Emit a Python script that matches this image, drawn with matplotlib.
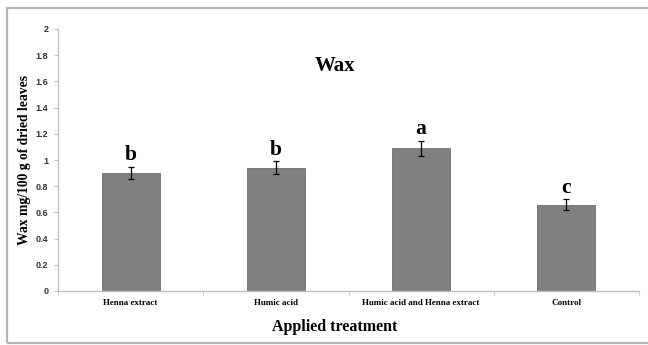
import matplotlib
matplotlib.use("Agg")
import matplotlib.pyplot as plt
from matplotlib.patches import Rectangle
import numpy as np

categories = ["Henna extract", "Humic acid", "Humic acid and Henna extract", "Control"]
values = [0.90, 0.94, 1.09, 0.66]
errors = [0.047, 0.05, 0.058, 0.04]
letters = ["b", "b", "a", "c"]
yticks = [0, 0.2, 0.4, 0.6, 0.8, 1, 1.2, 1.4, 1.6, 1.8, 2]

W, H = 648, 345
fig = plt.figure(figsize=(W/100, H/100), dpi=100)
fig.patch.set_facecolor("white")

# outer frame
fig.patches.append(Rectangle((7/W, 2/H), (W+5-7)/W, (337-2)/H, transform=fig.transFigure,
                             fill=False, edgecolor="#b5b5b5", linewidth=1.6, zorder=0))

ax = fig.add_axes([58/W, (H-291)/H, (639-58)/W, (291-29)/H])
x = np.arange(len(categories))
ax.bar(x, values, width=0.4, color="#808080", edgecolor="#6e6e6e", linewidth=0.6, zorder=2)
ax.errorbar(x, values, yerr=errors, fmt="none", ecolor="black", elinewidth=0.9,
            capsize=2.5, capthick=0.9, zorder=3)
for xi, v, e, l in zip(x, values, errors, letters):
    ax.text(xi, v + e + 0.012, l, ha="center", va="bottom", fontsize=15.5,
            fontweight="bold", family="Liberation Serif")

ax.set_xlim(-0.5, len(categories) - 0.5)
ax.set_ylim(0, 2)
ax.set_yticks(yticks)
ax.set_yticklabels([f"{t:g}" for t in yticks], fontsize=6.5, fontweight="bold",
                   family="Liberation Sans", color="#333333")
ax.set_xticks(x)
ax.set_xticklabels(categories, fontsize=6.5, fontweight="bold", family="Liberation Serif")
ax.set_xticks(np.arange(len(categories) + 1) - 0.5, minor=True)
ax.tick_params(axis="x", which="major", length=0, pad=6)
ax.tick_params(axis="x", which="minor", length=3, color="#bfbfbf", direction="out")
ax.tick_params(axis="y", length=3, color="#bfbfbf", direction="out", pad=4)

for s in ["top", "right"]:
    ax.spines[s].set_visible(False)
for s in ["left", "bottom"]:
    ax.spines[s].set_color("#bfbfbf")
    ax.spines[s].set_linewidth(1.0)

fig.text(335/W, 1 - 66/H, "Wax", ha="center", va="center", fontsize=15,
         fontweight="bold", family="Liberation Serif")
fig.text(25/W, 1 - 160/H, "Wax mg/100 g of dried leaves", rotation=90, ha="center",
         va="center", fontsize=9.8, fontweight="bold", family="Liberation Serif")
fig.text(335/W, 1 - 327/H, "Applied treatment", ha="center", va="center", fontsize=11.5,
         fontweight="bold", family="Liberation Serif")

fig.savefig("out.png", dpi=100)
